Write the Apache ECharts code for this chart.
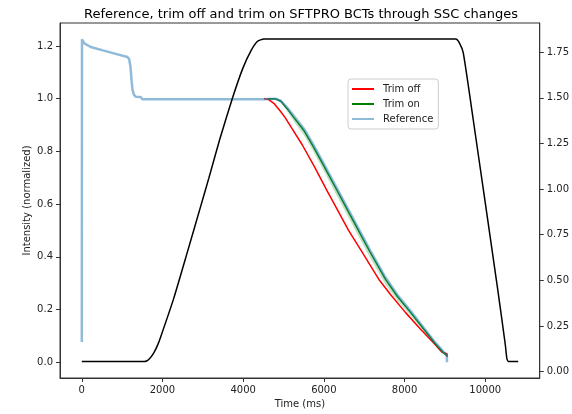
<!DOCTYPE html>
<html>
<head>
<meta charset="utf-8">
<script src="https://cdn.jsdelivr.net/npm/echarts@6/dist/echarts.min.js"></script>
<style>
  html, body { margin: 0; padding: 0; background: #fff; }
  #chart { width: 572px; height: 414px; }
</style>
</head>
<body>
<div id="chart"></div>
<script>
    // tick labels
    var timeTicks = [0, 2000, 4000, 6000, 8000, 10000];
    var intensityTicks = [0, 0.2, 0.4, 0.6, 0.8, 1.0, 1.2];
    var cycleTicks = [0, 0.25, 0.5, 0.75, 1.0, 1.25, 1.5, 1.75];

    // reference intensity (left axis)
    var refTime = [0, 5, 63, 222, 525, 840, 1131, 1175, 1207, 1233, 1255, 1291, 1337, 1459, 1501,
        4473, 4802, 4933, 5090, 5248, 5510, 5720, 5982, 6297, 6507, 6822, 7137, 7525, 7819, 8143, 8473, 8763, 8973, 9047, 9052];
    var refValue = [0.077, 1.225, 1.21, 1.196, 1.183, 1.17, 1.158, 1.15, 1.12, 1.07, 1.035, 1.015, 1.007, 1.006, 0.998,
        0.998, 1.0, 0.992, 0.966, 0.936, 0.885, 0.83, 0.757, 0.667, 0.607, 0.517, 0.427, 0.322, 0.256, 0.196, 0.131, 0.074, 0.038, 0.025, 0.0];

    // trim off
    var offTime = [4513, 4618, 4775, 4933, 5049, 5215, 5463, 5772, 6087, 6266, 6612, 6979, 7359, 7661, 8020, 8391, 8711, 8928, 9052, 9052];
    var offValue = [1.0, 0.998, 0.98, 0.95, 0.926, 0.885, 0.825, 0.74, 0.648, 0.598, 0.5, 0.41, 0.315, 0.255, 0.189, 0.126, 0.075, 0.038, 0.032, 0.02];

    // trim on (line + spread)
    var onTime = [4618, 4801, 4933, 5090, 5248, 5510, 5720, 5982, 6297, 6507, 6822, 7137, 7525, 7819, 8143, 8473, 8763, 8973, 9047];
    var onValue = [1.0, 0.999, 0.99, 0.962, 0.93, 0.878, 0.823, 0.75, 0.66, 0.6, 0.51, 0.42, 0.315, 0.25, 0.19, 0.126, 0.07, 0.035, 0.025];
    var onLow = [1.0, 0.997, 0.985, 0.952, 0.915, 0.86, 0.805, 0.73, 0.638, 0.578, 0.488, 0.398, 0.296, 0.235, 0.178, 0.117, 0.064, 0.03, 0.02];

    // magnetic cycle (right axis)
    var cycleTime = [0, 1553, 1606, 1658, 1721, 1795, 1879, 1955, 2277, 2624, 2939, 3149, 3416, 3737, 3988, 4198, 4356, 4513,
        9267, 9361, 9455, 9702, 10297, 10495, 10537, 10579, 10816];
    var cycleValue = [0.055, 0.055, 0.058, 0.066, 0.082, 0.107, 0.145, 0.19, 0.4, 0.66, 0.9, 1.06, 1.27, 1.5, 1.66, 1.76, 1.81, 1.822,
        1.822, 1.8, 1.746, 1.38, 0.468, 0.15, 0.07, 0.055, 0.055];

    function pairs(xs, ys) {
        return xs.map(function (x, i) { return [x, ys[i]]; });
    }

    var font = 'DejaVu Sans';
    var myChart = echarts.init(document.getElementById('chart'));

    var axisLine = { show: true, onZero: false, lineStyle: { color: '#333', width: 1 } };

    function renderBand(params, api) {
        var i = params.dataIndex;
        if (i >= onTime.length - 1) return null;
        var pts = [
            api.coord([onTime[i], onLow[i]]),
            api.coord([onTime[i + 1], onLow[i + 1]]),
            api.coord([onTime[i + 1], onValue[i + 1]]),
            api.coord([onTime[i], onValue[i]])
        ];
        return {
            type: 'polygon',
            shape: { points: pts },
            style: { fill: 'rgba(0,128,0,0.25)', stroke: null }
        };
    }

    var option = {
        animation: false,
        backgroundColor: '#fff',
        textStyle: { fontFamily: font },
        title: {
            text: 'Reference, trim off and trim on SFTPRO BCTs through SSC changes',
            left: 296, top: 3, textAlign: 'center',
            textStyle: { fontSize: 13, fontWeight: 'normal', color: '#000', fontFamily: font }
        },
        grid: { left: 60, right: 32, top: 23, bottom: 35, show: true, borderColor: '#333', borderWidth: 1 },
        legend: {
            orient: 'vertical', left: 348, top: 79,
            data: [
                { name: 'Trim off', icon: 'rect' },
                { name: 'Trim on', icon: 'rect' },
                { name: 'Reference', icon: 'rect' }
            ],
            itemWidth: 22, itemHeight: 2, itemGap: 5,
            padding: [5, 5, 5, 4],
            borderColor: '#ccc', borderWidth: 1, borderRadius: 3, backgroundColor: '#fff',
            textStyle: { fontSize: 10, color: '#222', fontFamily: font, padding: [0, 0, 0, 4] }
        },
        xAxis: {
            type: 'value', min: -540, max: 11350,
            splitLine: { show: false }, axisLine: axisLine,
            name: 'Time (ms)', nameLocation: 'middle', nameGap: 21, nameMoveOverlap: false,
            nameTextStyle: { fontSize: 10, color: '#222', fontFamily: font },
            axisTick: { show: true, length: 4, customValues: timeTicks, lineStyle: { color: '#333' } },
            axisLabel: {
                customValues: timeTicks, margin: 7, fontSize: 10, color: '#222', fontFamily: font,
                formatter: function (v) { return String(v); }
            }
        },
        yAxis: [
            {
                type: 'value', position: 'left', min: -0.06, max: 1.287,
                splitLine: { show: false }, axisLine: axisLine,
                name: 'Intensity (normalized)', nameLocation: 'middle', nameGap: 28, nameMoveOverlap: false,
                nameTextStyle: { fontSize: 10, color: '#222', fontFamily: font },
                axisTick: { show: true, length: 4, customValues: intensityTicks, lineStyle: { color: '#333' } },
                axisLabel: {
                    customValues: intensityTicks, margin: 7, fontSize: 10, color: '#222', fontFamily: font,
                    formatter: function (v) { return v.toFixed(1); }
                }
            },
            {
                type: 'value', position: 'right', min: -0.035, max: 1.91,
                splitLine: { show: false }, axisLine: axisLine,
                axisTick: { show: true, length: 4, customValues: cycleTicks, lineStyle: { color: '#333' } },
                axisLabel: {
                    customValues: cycleTicks, margin: 7, fontSize: 10, color: '#222', fontFamily: font,
                    formatter: function (v) { return v.toFixed(2); }
                }
            }
        ],
        series: [
            {
                name: 'band', type: 'custom', yAxisIndex: 0, silent: true,
                renderItem: renderBand,
                encode: { x: 0, y: [1, 2] },
                data: onTime.map(function (t, i) { return [t, onLow[i], onValue[i]]; })
            },
            {
                name: 'Trim off', type: 'line', yAxisIndex: 0, symbol: 'none',
                lineStyle: { color: '#ff0000', width: 1.5 }, itemStyle: { color: '#ff0000' },
                data: pairs(offTime, offValue)
            },
            {
                name: 'Trim on', type: 'line', yAxisIndex: 0, symbol: 'none',
                lineStyle: { color: '#008000', width: 1.5 }, itemStyle: { color: '#008000' },
                data: pairs(onTime, onValue)
            },
            {
                name: 'Reference', type: 'line', yAxisIndex: 0, symbol: 'none',
                lineStyle: { color: '#1f77b4', width: 2.5, opacity: 0.5 }, itemStyle: { color: '#8fbbd9' },
                data: pairs(refTime, refValue)
            },
            {
                name: 'cycle', type: 'line', yAxisIndex: 1, symbol: 'none', smooth: 0.2,
                lineStyle: { color: '#000', width: 1.5 },
                data: pairs(cycleTime, cycleValue)
            }
        ]
    };

    myChart.setOption(option);
</script>
</body>
</html>
